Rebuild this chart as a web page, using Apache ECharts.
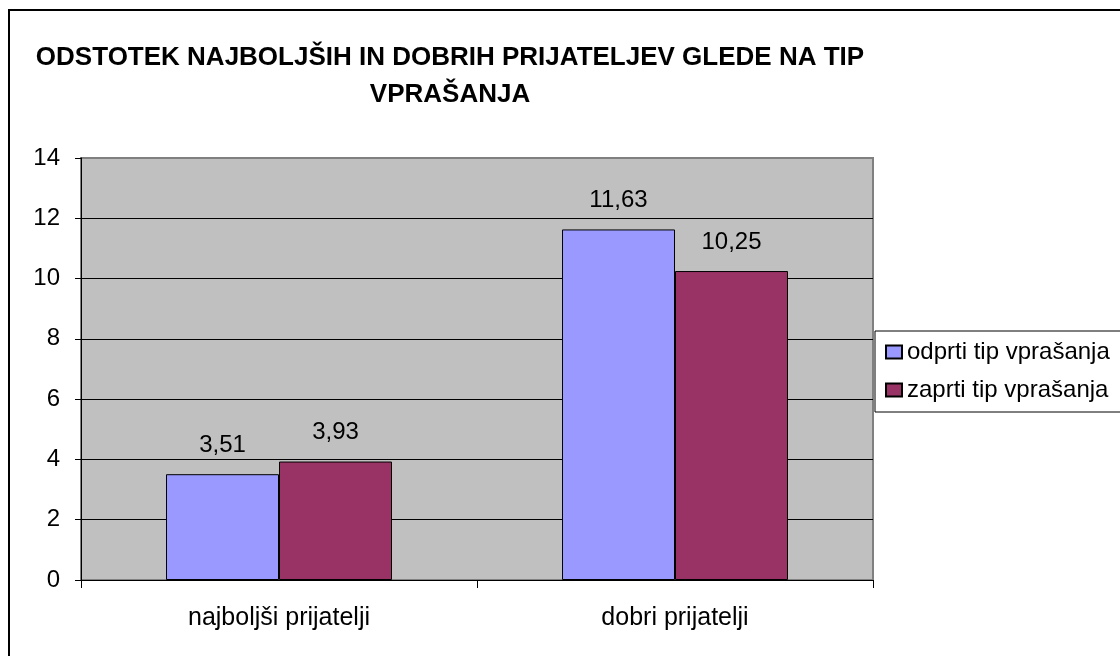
<!DOCTYPE html>
<html>
<head>
<meta charset="utf-8">
<script src="https://cdn.jsdelivr.net/npm/echarts@6/dist/echarts.min.js"></script>
<style>
  html, body { margin: 0; padding: 0; background: #fff; }
  #main { width: 1120px; height: 656px; }
</style>
</head>
<body>
<div id="main"></div>
<script>
var categories = ['najboljši prijatelji', 'dobri prijatelji'];
var seriesNames = ['odprti tip vprašanja', 'zaprti tip vprašanja'];
var openValues = [3.51, 11.63];
var closedValues = [3.93, 10.25];
var yTicks = { min: 0, max: 14, interval: 2 };

var font = '"Liberation Sans", Arial, sans-serif';

function commaLabel(p) {
    return p.value.toFixed(2).replace('.', ',');
}

// gridlines black, top one grey like the plot border
var gridColors = ['#000', '#000', '#000', '#000', '#000', '#000', '#000', '#808080'];

var myChart = echarts.init(document.getElementById('main'));
var option = {
    backgroundColor: '#fff',
    animation: false,
    textStyle: { fontFamily: font, color: '#000' },
    graphic: [{
        type: 'rect',
        shape: { x: 9, y: 10, width: 1200, height: 700 },
        style: { fill: 'none', stroke: '#000', lineWidth: 2 },
        silent: true
    }, {
        type: 'text',
        x: 450,
        y: 39,
        style: {
            text: 'ODSTOTEK NAJBOLJŠIH IN DOBRIH PRIJATELJEV GLEDE NA TIP\nVPRAŠANJA',
            font: 'bold 26px ' + font,
            fill: '#000',
            textAlign: 'center',
            textVerticalAlign: 'top',
            lineHeight: 37
        }
    }],
    legend: {
        orient: 'vertical',
        left: 875,
        top: 331,
        padding: [9, 30, 10, 10],
        itemWidth: 16,
        itemHeight: 13,
        itemGap: 14,
        icon: 'rect',
        backgroundColor: '#fff',
        borderColor: '#000',
        borderWidth: 1,
        textStyle: { fontSize: 24, lineHeight: 24, color: '#000', fontFamily: font },
        data: seriesNames
    },
    grid: {
        left: 81,
        top: 158,
        width: 792,
        height: 422,
        show: true,
        backgroundColor: '#C0C0C0',
        borderColor: '#808080',
        borderWidth: 2,
        containLabel: false
    },
    xAxis: {
        type: 'category',
        data: categories,
        axisLine: { lineStyle: { color: '#000', width: 1 } },
        axisTick: { show: true, length: 8, lineStyle: { color: '#000' } },
        axisLabel: { fontSize: 25, lineHeight: 24, margin: 26, color: '#000', fontFamily: font },
        splitLine: { show: false }
    },
    yAxis: {
        type: 'value',
        min: yTicks.min,
        max: yTicks.max,
        interval: yTicks.interval,
        axisLine: { show: true, lineStyle: { color: '#000', width: 1 } },
        axisTick: { show: true, length: 6, lineStyle: { color: '#000' } },
        axisLabel: { fontSize: 24, margin: 21, color: '#000', fontFamily: font },
        splitLine: { show: true, lineStyle: { color: gridColors, width: 1 } }
    },
    series: [{
        name: seriesNames[0],
        type: 'bar',
        data: openValues,
        barWidth: 113,
        barGap: '0%',
        itemStyle: { color: '#9999FF', borderColor: '#000', borderWidth: 1 },
        label: { show: true, position: 'top', distance: 17, fontSize: 24, lineHeight: 24, color: '#000', fontFamily: font, formatter: commaLabel }
    }, {
        name: seriesNames[1],
        type: 'bar',
        data: closedValues,
        barWidth: 113,
        barGap: '0%',
        itemStyle: { color: '#993366', borderColor: '#000', borderWidth: 1 },
        label: { show: true, position: 'top', distance: 17, fontSize: 24, lineHeight: 24, color: '#000', fontFamily: font, formatter: commaLabel }
    }]
};
myChart.setOption(option);
</script>
</body>
</html>
